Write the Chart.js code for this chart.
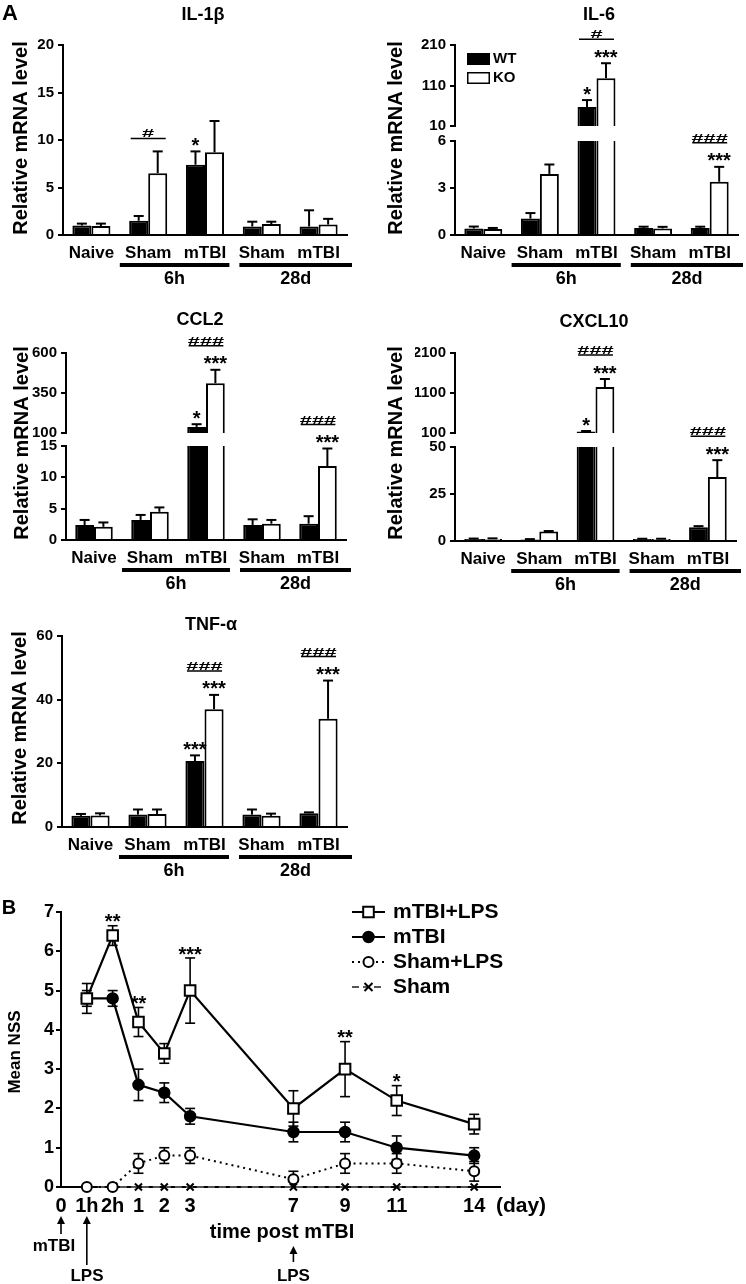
<!DOCTYPE html>
<html><head><meta charset="utf-8">
<script src="https://cdn.jsdelivr.net/npm/chart.js@4.4.1/dist/chart.umd.min.js"></script>
<style>
html,body{margin:0;padding:0;background:#fff;}
#wrap{position:relative;width:746px;height:1284px;overflow:hidden;background:#fff;}
#wrap canvas{position:absolute;}
</style></head><body><div id="wrap"></div>
<script>
const FONT = "'Liberation Sans', Arial, Helvetica, sans-serif";
const wrap = document.getElementById('wrap');

// ---------------- DATA ----------------
const groupLabels = ['Naive','Sham','mTBI','Sham','mTBI'];
const timeLabels = ['6h','28d'];
const timeSpans = [[1,2],[3,4]];
const seriesLabels = ['WT','KO'];

const il1bWT = [1.0, 1.5, 7.4, 0.9, 0.9];
const il1bWTErr = [0.2, 0.5, 1.4, 0.5, 1.7];
const il1bKO = [0.95, 6.5, 8.7, 1.15, 1.1];
const il1bKOErr = [0.25, 2.3, 3.3, 0.25, 0.6];
const il1bTicks = [0,5,10,15,20];

const il6WT = [0.42, 1.05, 57, 0.45, 0.45];
const il6WTErr = [0.12, 0.35, 17, 0.08, 0.08];
const il6KO = [0.38, 3.9, 128, 0.42, 3.4];
const il6KOErr = [0.07, 0.6, 37, 0.1, 0.95];
const il6TicksHigh = [10,110,210];
const il6TicksLow = [0,3,6];

const ccl2WT = [2.4, 3.2, 138, 2.4, 2.6];
const ccl2WTErr = [0.8, 0.8, 17, 0.9, 1.2];
const ccl2KO = [2.1, 4.5, 411, 2.6, 11.8];
const ccl2KOErr = [0.7, 0.7, 84, 0.6, 2.8];
const ccl2TicksHigh = [100,350,600];
const ccl2TicksLow = [0,5,10,15];

const cxcl10WT = [1.0, 0.8, 140, 1.0, 7.3];
const cxcl10WTErr = [0.3, 0.2, 10, 0.2, 0.6];
const cxcl10KO = [1.1, 5.0, 1250, 1.0, 34];
const cxcl10KOErr = [0.3, 0.3, 200, 0.2, 9];
const cxcl10TicksHigh = [100,1100,2100];
const cxcl10TicksLow = [0,25,50];

const tnfWT = [3.5, 3.9, 20.7, 3.9, 4.3];
const tnfWTErr = [0.6, 1.6, 1.8, 1.6, 0.3];
const tnfKO = [3.6, 4.1, 37, 3.5, 34];
const tnfKOErr = [0.7, 1.4, 4.5, 0.7, 12];
const tnfTicks = [0,20,40,60];

// significance marks: [group, series, text] and [group, text]
const il1bStars = [[2,'WT','*']];
const il1bHash = [[1,'#']];
const il6Stars = [[2,'WT','*'],[2,'KO','***'],[4,'KO','***']];
const il6Hash = [[2,'#'],[4,'###']];
const ccl2Stars = [[2,'WT','*'],[2,'KO','***'],[4,'KO','***']];
const ccl2Hash = [[2,'###'],[4,'###']];
const cxcl10Stars = [[2,'WT','*'],[2,'KO','***'],[4,'KO','***']];
const cxcl10Hash = [[2,'###'],[4,'###']];
const tnfStars = [[2,'WT','***'],[2,'KO','***'],[4,'KO','***']];
const tnfHash = [[2,'###'],[4,'###']];

// Panel B
const dayLabels = ['0','1h','2h','1','2','3','7','9','11','14'];
const dayAxisPos = [0,1,2,3,4,5,9,11,13,16];
const nssTicks = [0,1,2,3,4,5,6,7];
const nssSeries = ['mTBI+LPS','mTBI','Sham+LPS','Sham'];
const mtbiLpsNSS = [4.8, 6.4, 4.2, 3.4, 5.0, 2.0, 3.0, 2.2, 1.6];
const mtbiLpsErr = [0.38, 0.25, 0.37, 0.25, 0.83, 0.45, 0.7, 0.38, 0.25];
const mtbiNSS = [4.8, 4.8, 2.6, 2.4, 1.8, 1.4, 1.4, 1.0, 0.8];
const mtbiErr = [0.2, 0.2, 0.4, 0.25, 0.2, 0.25, 0.25, 0.3, 0.2];
const shamLpsNSS = [0, 0, 0.6, 0.8, 0.8, 0.2, 0.6, 0.6, 0.4];
const shamLpsErr = [0, 0, 0.25, 0.2, 0.2, 0.2, 0.25, 0.25, 0.25];
const shamNSS = [0, 0, 0, 0, 0, 0, 0, 0, 0];
const shamErr = [0, 0, 0, 0, 0, 0, 0, 0, 0];
const nssStars = [[2,'**'],[3,'**'],[5,'***'],[7,'**'],[8,'*']];

// ---------------- HELPERS ----------------
function addCanvas(R){
  const c = document.createElement('canvas');
  c.width = R.w; c.height = R.h;
  c.style.left = R.x+'px'; c.style.top = R.y+'px';
  c.style.width = R.w+'px'; c.style.height = R.h+'px';
  wrap.appendChild(c); return c;
}
function bf(size){ return {family:FONT, size:size, weight:'bold'}; }
function T(ctx, s, x, y, size, align, rot){
  ctx.save(); ctx.translate(x,y); if(rot) ctx.rotate(rot);
  ctx.font = 'bold '+size+'px '+FONT; ctx.fillStyle='#000';
  ctx.textAlign = align||'center'; ctx.textBaseline='middle';
  ctx.fillText(s,0,0); ctx.restore();
}
function starText(ctx, s, x, cy, size){
  ctx.save(); ctx.font='bold '+size+'px '+FONT; ctx.fillStyle='#000';
  ctx.textAlign='center'; ctx.textBaseline='alphabetic';
  ctx.fillText(s, x, cy + 0.58*size); ctx.restore();
}
function hashText(ctx, s, x, baseY){
  ctx.save(); ctx.translate(x, baseY); ctx.scale(1.15, 0.62);
  ctx.font='bold 19px '+FONT; ctx.fillStyle='#000';
  ctx.textAlign='center'; ctx.textBaseline='alphabetic';
  ctx.fillText(s,0,0); ctx.restore();
}
function seg(ctx,x1,y1,x2,y2){ ctx.beginPath(); ctx.moveTo(x1,y1); ctx.lineTo(x2,y2); ctx.stroke(); }

const errPlugin = {
  id:'errbars',
  afterDatasetsDraw(chart){
    const ctx = chart.ctx, ys = chart.scales.y, a = chart.chartArea;
    ctx.save();
    ctx.beginPath(); ctx.rect(a.left-12, a.top-3, a.right-a.left+24, a.bottom-a.top+6); ctx.clip();
    ctx.strokeStyle='#000'; ctx.lineWidth=2;
    chart.data.datasets.forEach((ds,i)=>{
      chart.getDatasetMeta(i).data.forEach((bar,j)=>{
        const v = ds.data[j], e = ds.err[j];
        if (v < ys.min || v+e > ys.max) return;
        const y1 = ys.getPixelForValue(v), y2 = ys.getPixelForValue(v+e);
        seg(ctx, bar.x, y1, bar.x, y2);
        seg(ctx, bar.x-5, y2, bar.x+5, y2);
      });
    });
    ctx.restore();
  }
};

function sigPlugin(p){
  return {id:'sig', afterDatasetsDraw(chart){
    const ctx = chart.ctx, ys = chart.scales.y;
    const inR = v => v >= ys.min && v <= ys.max;
    p.stars.forEach(([g,s,t])=>{
      const di = seriesLabels.indexOf(s), ds = chart.data.datasets[di];
      const top = ds.data[g] + ds.err[g]; if(!inR(top)) return;
      const bar = chart.getDatasetMeta(di).data[g];
      starText(ctx, t, bar.x, ys.getPixelForValue(top) - 11, 20);
    });
    p.hashes.forEach(([g,t])=>{
      const d0 = chart.data.datasets[0], d1 = chart.data.datasets[1];
      const top = Math.max(d0.data[g]+d0.err[g], d1.data[g]+d1.err[g]); if(!inR(top)) return;
      const hasStar = p.stars.some(s=>s[0]===g);
      const y = ys.getPixelForValue(top) - (hasStar ? 24 : 13);
      const b0 = chart.getDatasetMeta(0).data[g], b1 = chart.getDatasetMeta(1).data[g];
      const x1 = b0.x - 8, x2 = b1.x + 8;
      ctx.save(); ctx.strokeStyle='#000'; ctx.lineWidth=1.5; seg(ctx,x1,y,x2,y); ctx.restore();
      hashText(ctx, t, (x1+x2)/2, y-1);
    });
  }};
}

const groupPlugin = {
  id:'grp',
  afterDraw(chart){
    const xs = chart.scales.x, a = chart.chartArea, ctx = chart.ctx;
    const cw = xs.getPixelForValue(1) - xs.getPixelForValue(0);
    const spans = [
      [xs.getPixelForValue(timeSpans[0][0]) - cw/2, xs.getPixelForValue(timeSpans[0][1]) + cw/2 - 4],
      [xs.getPixelForValue(timeSpans[1][0]) - cw/2 + 6, xs.getPixelForValue(timeSpans[1][1]) + cw/2 + 5]
    ];
    ctx.save(); ctx.fillStyle='#000';
    spans.forEach(([x1,x2],k)=>{
      ctx.fillRect(x1, a.bottom+28, x2-x1, 4);
      T(ctx, timeLabels[k], (x1+x2)/2, a.bottom+44, 18);
    });
    ctx.restore();
  }
};

function staticText(R, items){
  return {id:'static', afterDraw(chart){
    const ctx = chart.ctx;
    items.forEach(it=>T(ctx, it.s, it.x-R.x, it.y-R.y, it.size, it.align, it.rot));
  }};
}

function legendAPlugin(R, at){
  return {id:'legA', afterDraw(chart){
    const ctx = chart.ctx; const x = at.x-R.x, y = at.y-R.y;
    ctx.save();
    ctx.fillStyle='#000'; ctx.fillRect(x, y-6, 23, 12);
    ctx.strokeStyle='#000'; ctx.lineWidth=1.5; ctx.strokeRect(x+0.75, y+13.75, 21.5, 10.5);
    ctx.restore();
    T(ctx, seriesLabels[0], x+26, y, 15, 'left');
    T(ctx, seriesLabels[1], x+26, y+19, 15, 'left');
  }};
}

const YW = 40, XH = 40;
function barChart(p, sg, showX){
  const R = p.R, area = p.area;
  const c = addCanvas(R);
  const xH = showX ? XH : 0;
  const plugins = [errPlugin, sigPlugin(p)];
  if (showX) { plugins.push(groupPlugin, staticText(R, p.texts)); if (p.legendAt) plugins.push(legendAPlugin(R, p.legendAt)); }
  return new Chart(c, {
    type:'bar',
    data:{labels: groupLabels, datasets:[
      {label:seriesLabels[0], data:p.wt, err:p.wtErr, backgroundColor:'#000', borderColor:'#000', borderWidth:2, clip:0, categoryPercentage:0.67, barPercentage:1},
      {label:seriesLabels[1], data:p.ko, err:p.koErr, backgroundColor:'#fff', borderColor:'#000', borderWidth:2, clip:0, categoryPercentage:0.67, barPercentage:1}
    ]},
    options:{
      responsive:false, animation:false, events:[],
      layout:{padding:{left:area.l-R.x-YW, top:sg.t-R.y, right:R.x+R.w-area.r, bottom:R.y+R.h-sg.b-xH}},
      plugins:{legend:{display:false}, tooltip:{enabled:false}},
      scales:{
        x:{display:showX, offset:true, grid:{display:false, drawTicks:false}, border:{display:true, color:'#000', width:2},
           ticks:{font:bf(17), color:'#000', padding:8, maxRotation:0, autoSkip:false},
           afterFit:s=>{ s.height = xH; }},
        y:{min:sg.ticks[0], max:sg.ticks[sg.ticks.length-1],
           afterBuildTicks:s=>{ s.ticks = sg.ticks.map(v=>({value:v})); },
           ticks:{font:bf(15), color:'#000', padding:4, callback:v=>String(v)},
           grid:{display:true, drawOnChartArea:false, drawTicks:true, tickLength:5, color:'#000', lineWidth:2},
           border:{display:true, color:'#000', width:2},
           afterFit:s=>{ s.width = YW; }}
      }
    },
    plugins:plugins
  });
}

const YT = 'Relative mRNA level';
const panels = [
  {R:{x:0,y:0,w:373,h:300}, area:{l:63,r:347}, segs:[{t:45,b:235,ticks:il1bTicks}],
   wt:il1bWT, wtErr:il1bWTErr, ko:il1bKO, koErr:il1bKOErr, stars:il1bStars, hashes:il1bHash,
   texts:[{s:'A',x:10,y:14,size:22},{s:'IL-1β',x:203,y:15,size:18},{s:YT,x:21,y:138,size:20,rot:-Math.PI/2}]},
  {R:{x:373,y:0,w:373,h:300}, area:{l:455,r:738}, segs:[{t:45,b:126,ticks:il6TicksHigh},{t:141,b:235,ticks:il6TicksLow}],
   wt:il6WT, wtErr:il6WTErr, ko:il6KO, koErr:il6KOErr, stars:il6Stars, hashes:il6Hash, legendAt:{x:467,y:59},
   texts:[{s:'IL-6',x:599,y:15,size:18},{s:YT,x:396,y:138,size:20,rot:-Math.PI/2}]},
  {R:{x:0,y:300,w:373,h:310}, area:{l:66,r:346}, segs:[{t:353,b:433,ticks:ccl2TicksHigh},{t:446,b:540,ticks:ccl2TicksLow}],
   wt:ccl2WT, wtErr:ccl2WTErr, ko:ccl2KO, koErr:ccl2KOErr, stars:ccl2Stars, hashes:ccl2Hash,
   texts:[{s:'CCL2',x:200,y:320,size:18},{s:YT,x:22,y:443,size:20,rot:-Math.PI/2}]},
  {R:{x:373,y:300,w:373,h:310}, area:{l:455,r:736}, segs:[{t:353,b:433,ticks:cxcl10TicksHigh},{t:447,b:541,ticks:cxcl10TicksLow}],
   wt:cxcl10WT, wtErr:cxcl10WTErr, ko:cxcl10KO, koErr:cxcl10KOErr, stars:cxcl10Stars, hashes:cxcl10Hash,
   texts:[{s:'CXCL10',x:594,y:322,size:18},{s:YT,x:396,y:443,size:20,rot:-Math.PI/2}]},
  {R:{x:0,y:600,w:373,h:300}, area:{l:62,r:347}, segs:[{t:636,b:827,ticks:tnfTicks}],
   wt:tnfWT, wtErr:tnfWTErr, ko:tnfKO, koErr:tnfKOErr, stars:tnfStars, hashes:tnfHash,
   texts:[{s:'TNF-α',x:211,y:625,size:18},{s:YT,x:20,y:728,size:20,rot:-Math.PI/2}]}
];
panels.forEach(p => p.segs.forEach((sg,k) => barChart(p, sg, k === p.segs.length-1)));

// ---------------- PANEL B ----------------
const RB = {x:0, y:880, w:746, h:404};
const areaB = {l:61, r:500, t:912, b:1187};
const sampleX = dayAxisPos.slice(1);
const pts = arr => arr.map((v,i)=>({x:sampleX[i], y:v}));

function drawMarker(ctx, style, r, x, y, fill, stroke, bw){
  ctx.save(); ctx.lineWidth = bw; ctx.strokeStyle = stroke; ctx.fillStyle = fill;
  ctx.setLineDash([]);
  ctx.beginPath();
  if (style==='rect'){ const s=r*Math.SQRT1_2; ctx.rect(x-s,y-s,2*s,2*s); ctx.fill(); ctx.stroke(); }
  else if (style==='circle'){ ctx.arc(x,y,r,0,Math.PI*2); ctx.fill(); ctx.stroke(); }
  else if (style==='crossRot'){ const s=r*0.8; ctx.moveTo(x-s,y-s); ctx.lineTo(x+s,y+s); ctx.moveTo(x+s,y-s); ctx.lineTo(x-s,y+s); ctx.stroke(); }
  ctx.restore();
}

const errBPlugin = {
  id:'errB',
  beforeDatasetsDraw(chart){
    const ctx = chart.ctx, ys = chart.scales.y;
    ctx.save(); ctx.strokeStyle='#000'; ctx.lineWidth=1.6;
    chart.data.datasets.forEach((ds,i)=>{
      chart.getDatasetMeta(i).data.forEach((pt,j)=>{
        const e = ds.err[j]; if(!e) return;
        const v = ds.data[j].y;
        const yt = ys.getPixelForValue(v+e), yb = ys.getPixelForValue(Math.max(0,v-e));
        seg(ctx, pt.x, yt, pt.x, yb);
        seg(ctx, pt.x-5, yt, pt.x+5, yt);
        seg(ctx, pt.x-5, yb, pt.x+5, yb);
      });
    });
    ctx.restore();
  },
  afterDatasetsDraw(chart){
    const ctx = chart.ctx, ys = chart.scales.y, ds = chart.data.datasets[0];
    const meta = chart.getDatasetMeta(0);
    nssStars.forEach(([idx,t])=>{
      const j = idx - 1;
      const top = ds.data[j].y + ds.err[j];
      starText(ctx, t, meta.data[j].x, ys.getPixelForValue(top) - 9, 20);
    });
  }
};

const legendBPlugin = {
  id:'legB',
  afterDraw(chart){
    const ctx = chart.ctx;
    const rows = [912, 937, 962, 987];
    chart.data.datasets.forEach((ds,i)=>{
      const y = rows[i]-RB.y;
      ctx.save(); ctx.strokeStyle = ds.borderColor; ctx.lineWidth = ds.borderWidth;
      ctx.setLineDash(ds.borderDash || []);
      seg(ctx, 352, y, 385, y); ctx.restore();
      drawMarker(ctx, ds.pointStyle, ds.pointRadius, 368.5, y, ds.pointBackgroundColor, ds.pointBorderColor, ds.pointBorderWidth);
      T(ctx, ds.label, 393, y, 21, 'left');
    });
  }
};

function arrowUp(ctx, x, y1, y2){
  ctx.save(); ctx.strokeStyle='#000'; ctx.fillStyle='#000'; ctx.lineWidth=1.6;
  seg(ctx, x, y1+5, x, y2);
  ctx.beginPath(); ctx.moveTo(x, y1); ctx.lineTo(x-4, y1+8); ctx.lineTo(x+4, y1+8); ctx.closePath(); ctx.fill();
  ctx.restore();
}

const notesBPlugin = {
  id:'notesB',
  afterDraw(chart){
    const ctx = chart.ctx, xs = chart.scales.x, oy = RB.y;
    const x0 = xs.getPixelForValue(dayAxisPos[0]);
    const x1h = xs.getPixelForValue(dayAxisPos[1]);
    const x7 = xs.getPixelForValue(dayAxisPos[6]);
    arrowUp(ctx, x0, 1216-oy, 1234-oy);
    arrowUp(ctx, x1h, 1216-oy, 1265-oy);
    arrowUp(ctx, x7, 1246-oy, 1262-oy);
    T(ctx, 'mTBI', 54, 1246-oy, 17);
    T(ctx, 'LPS', 87, 1276-oy, 17);
    T(ctx, 'LPS', x7, 1276-oy, 17);
    T(ctx, 'time post mTBI', 282, 1232-oy, 20);
    T(ctx, '(day)', 521, 1206-oy, 21);
    T(ctx, 'Mean NSS', 15, 1052-oy, 17, 'center', -Math.PI/2);
    T(ctx, 'B', 9, 908-oy, 20);
  }
};

const cB = addCanvas(RB);
new Chart(cB, {
  type:'line',
  data:{datasets:[
    {label:nssSeries[0], data:pts(mtbiLpsNSS), err:mtbiLpsErr, borderColor:'#000', borderWidth:2.2, tension:0, clip:false,
     pointStyle:'rect', pointRadius:7.5, pointBackgroundColor:'#fff', pointBorderColor:'#000', pointBorderWidth:2},
    {label:nssSeries[1], data:pts(mtbiNSS), err:mtbiErr, borderColor:'#000', borderWidth:2.2, tension:0, clip:false,
     pointStyle:'circle', pointRadius:5.5, pointBackgroundColor:'#000', pointBorderColor:'#000', pointBorderWidth:1.5},
    {label:nssSeries[2], data:pts(shamLpsNSS), err:shamLpsErr, borderColor:'#000', borderWidth:2, borderDash:[2,4], tension:0, clip:false,
     pointStyle:'circle', pointRadius:5, pointBackgroundColor:'#fff', pointBorderColor:'#000', pointBorderWidth:2},
    {label:nssSeries[3], data:pts(shamNSS), err:shamErr, borderColor:'#555', borderWidth:2, borderDash:[7,4], tension:0, clip:false,
     pointStyle:'crossRot', pointRadius:5, pointBackgroundColor:'#000', pointBorderColor:'#000', pointBorderWidth:2}
  ]},
  options:{
    responsive:false, animation:false, events:[],
    layout:{padding:{left:areaB.l-RB.x-YW, top:areaB.t-RB.y, right:RB.x+RB.w-areaB.r, bottom:RB.y+RB.h-areaB.b-XH}},
    plugins:{legend:{display:false}, tooltip:{enabled:false}},
    scales:{
      x:{type:'linear', min:dayAxisPos[0], max:17, bounds:'data',
         afterBuildTicks:s=>{ s.ticks = dayAxisPos.map(v=>({value:v})); },
         ticks:{font:bf(20), color:'#000', padding:7, autoSkip:false, maxRotation:0, callback:(v,i)=>dayLabels[i]},
         grid:{display:false, drawTicks:false}, border:{display:true, color:'#000', width:2},
         afterFit:s=>{ s.height = XH; }},
      y:{min:nssTicks[0], max:nssTicks[nssTicks.length-1],
         afterBuildTicks:s=>{ s.ticks = nssTicks.map(v=>({value:v})); },
         ticks:{font:bf(18), color:'#000', padding:2},
         grid:{display:true, drawOnChartArea:false, drawTicks:true, tickLength:5, color:'#000', lineWidth:2},
         border:{display:true, color:'#000', width:2},
         afterFit:s=>{ s.width = YW; }}
    }
  },
  plugins:[errBPlugin, legendBPlugin, notesBPlugin]
});
</script>
</body></html>
